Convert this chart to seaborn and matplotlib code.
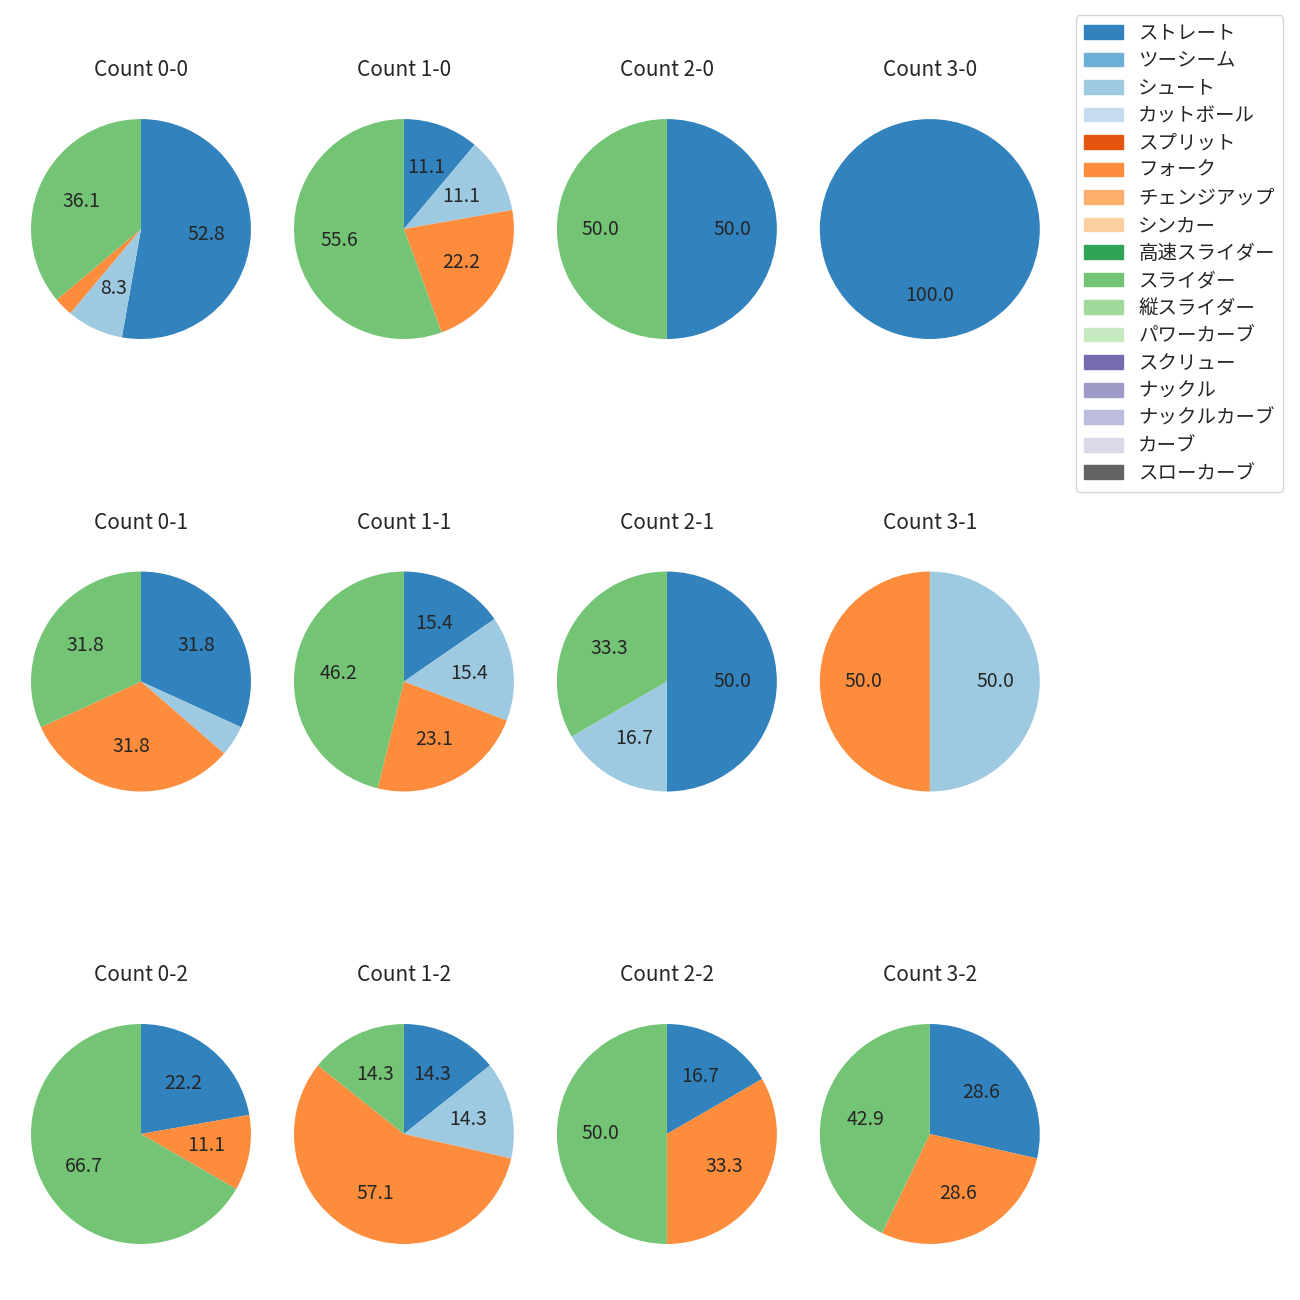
import numpy as np
import matplotlib.pyplot as plt
import seaborn as sns

sns.set_style("white")
plt.rcParams['font.family'] = ['Noto Sans CJK JP', 'DejaVu Sans']

pitch_types = ['ストレート', 'ツーシーム', 'シュート', 'カットボール', 'スプリット', 'フォーク',
               'チェンジアップ', 'シンカー', '高速スライダー', 'スライダー', '縦スライダー',
               'パワーカーブ', 'スクリュー', 'ナックル', 'ナックルカーブ', 'カーブ', 'スローカーブ']
PALETTE = sns.color_palette("tab20c", 17)

# pitch counts per ball-strike count (order follows pitch_types)
#            St Tw Sh Cu Sp Fk Ch Si HS Sl VS PC Sc Kn KC Cv SC
c_0_0 = [19, 0, 3, 0, 0, 1, 0, 0, 0, 13, 0, 0, 0, 0, 0, 0, 0]
c_1_0 = [1, 0, 1, 0, 0, 2, 0, 0, 0, 5, 0, 0, 0, 0, 0, 0, 0]
c_2_0 = [1, 0, 0, 0, 0, 0, 0, 0, 0, 1, 0, 0, 0, 0, 0, 0, 0]
c_3_0 = [1, 0, 0, 0, 0, 0, 0, 0, 0, 0, 0, 0, 0, 0, 0, 0, 0]
c_0_1 = [7, 0, 1, 0, 0, 7, 0, 0, 0, 7, 0, 0, 0, 0, 0, 0, 0]
c_1_1 = [2, 0, 2, 0, 0, 3, 0, 0, 0, 6, 0, 0, 0, 0, 0, 0, 0]
c_2_1 = [3, 0, 1, 0, 0, 0, 0, 0, 0, 2, 0, 0, 0, 0, 0, 0, 0]
c_3_1 = [0, 0, 1, 0, 0, 1, 0, 0, 0, 0, 0, 0, 0, 0, 0, 0, 0]
c_0_2 = [2, 0, 0, 0, 0, 1, 0, 0, 0, 6, 0, 0, 0, 0, 0, 0, 0]
c_1_2 = [1, 0, 1, 0, 0, 4, 0, 0, 0, 1, 0, 0, 0, 0, 0, 0, 0]
c_2_2 = [1, 0, 0, 0, 0, 2, 0, 0, 0, 3, 0, 0, 0, 0, 0, 0, 0]
c_3_2 = [2, 0, 0, 0, 0, 2, 0, 0, 0, 3, 0, 0, 0, 0, 0, 0, 0]

count_labels = ['0-0', '1-0', '2-0', '3-0',
                '0-1', '1-1', '2-1', '3-1',
                '0-2', '1-2', '2-2', '3-2']
count_data = [c_0_0, c_1_0, c_2_0, c_3_0,
              c_0_1, c_1_1, c_2_1, c_3_1,
              c_0_2, c_1_2, c_2_2, c_3_2]

fig, axes = plt.subplots(3, 4, figsize=(13, 13), dpi=100)
fig.subplots_adjust(left=0.0027, right=0.821, top=0.9296, bottom=0.0219,
                    wspace=-0.0436, hspace=0.645)

for ax, lab, vals in zip(axes.flat, count_labels, count_data):
    vals = np.array(vals)
    mask = vals > 0
    ax.pie(vals[mask], colors=[c for c, m in zip(PALETTE, mask) if m],
           startangle=90, counterclock=False,
           autopct=lambda p: f'{p:.1f}' if p >= 5 else '',
           pctdistance=0.6, textprops={'fontsize': 14},
           wedgeprops={'linewidth': 0})
    ax.set_title(f'Count {lab}', fontsize=15, pad=11)

handles = [plt.Rectangle((0, 0), 1, 1, color=c) for c in PALETTE]
fig.legend(handles, pitch_types, loc='upper right', bbox_to_anchor=(0.9941, 0.9959),
           fontsize=14, labelspacing=0.335, frameon=True)

plt.savefig('out.png', dpi=100)
